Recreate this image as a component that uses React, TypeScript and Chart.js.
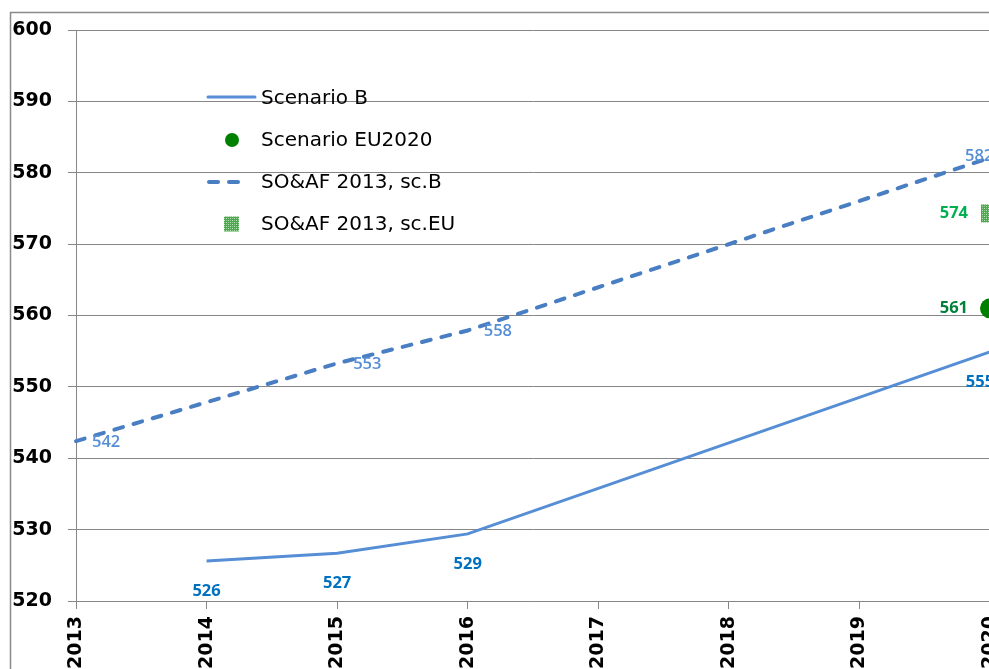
import React, { useEffect, useRef } from "react";
import { Chart, registerables } from "chart.js";

Chart.register(...registerables);

// ---- data ----
const years = ["2013", "2014", "2015", "2016", "2017", "2018", "2019", "2020"];
const scenarioB = [null, 525.6, 526.7, 529.4, null, null, null, 554.9];
const scenarioEU2020 = [null, null, null, null, null, null, null, 561.0];
const soafB = [542.4, null, 553.3, 557.9, null, null, null, 582.1];
const soafEU = [null, null, null, null, null, null, null, 574.3];
const seriesNames = ["Scenario B", "Scenario EU2020", "SO&AF 2013, sc.B", "SO&AF 2013, sc.EU"];
const yMin = 520;
const yMax = 600;
const yStep = 10;

// ---- styles ----
const FONT = "'DejaVu Sans', sans-serif";
const LABEL_FONT = "'Open Sans', sans-serif";
const GRID = "#868686";
const labelStyles = [
  { color: "#0070C0", place: "below", weight: "bold" },
  { color: "#00803A", place: "left", weight: "bold" },
  { color: "#558ED5", place: "right", weight: "600" },
  { color: "#00B050", place: "left", weight: "bold" },
];

function makePattern(): CanvasPattern | string {
  const c = document.createElement("canvas");
  c.width = 4;
  c.height = 4;
  const g = c.getContext("2d");
  if (!g) return "#5aad5a";
  g.fillStyle = "#4fa84f";
  g.fillRect(0, 0, 4, 4);
  g.fillStyle = "#bfe3bf";
  g.fillRect(0, 0, 1, 1);
  g.fillRect(2, 2, 1, 1);
  g.fillStyle = "#8ccc8c";
  g.fillRect(2, 0, 1, 1);
  g.fillRect(0, 2, 1, 1);
  const p = g.createPattern(c, "repeat");
  return p || "#5aad5a";
}

export default function App() {
  const ref = useRef<HTMLCanvasElement>(null);

  useEffect(() => {
    if (!ref.current) return;
    const pattern = makePattern();

    const frame = {
      id: "frame",
      beforeDraw(chart: any) {
        const ctx = chart.ctx;
        ctx.save();
        ctx.strokeStyle = "#8a8a8a";
        ctx.lineWidth = 1.5;
        ctx.strokeRect(10.5, 12.5, 3000, 3000);
        ctx.restore();
      },
    };

    const dataLabels = {
      id: "dataLabels",
      afterDatasetsDraw(chart: any) {
        const ctx = chart.ctx;
        const area = chart.chartArea;
        ctx.save();
        ctx.textBaseline = "middle";
        chart.data.datasets.forEach((ds: any, di: number) => {
          const meta = chart.getDatasetMeta(di);
          const st = labelStyles[di];
          ctx.font = `${st.weight} 16.5px ${LABEL_FONT}`;
          ds.data.forEach((v: number | null, i: number) => {
            if (v == null) return;
            const el = meta.data[i];
            const txt = String(Math.round(v));
            const w = ctx.measureText(txt).width;
            ctx.fillStyle = st.color;
            if (st.place === "below") {
              const cx = Math.min(el.x, area.right - 10);
              ctx.textAlign = "center";
              ctx.fillText(txt, cx, el.y + 30);
            } else if (st.place === "right") {
              let lx = el.x + 16;
              let ly = el.y + 1;
              if (lx + w > area.right) {
                lx = area.right - 25;
                ly = el.y - 1;
              }
              ctx.textAlign = "left";
              ctx.fillText(txt, lx, ly);
            } else {
              ctx.textAlign = "right";
              ctx.fillText(txt, el.x - 22, el.y);
            }
          });
        });
        ctx.restore();
      },
    };

    const legend = {
      id: "customLegend",
      afterDraw(chart: any) {
        const ctx = chart.ctx;
        const x0 = 207;
        const rows = [98, 140, 182, 224];
        ctx.save();
        ctx.strokeStyle = "#558ED5";
        ctx.lineWidth = 3;
        ctx.lineCap = "round";
        ctx.beginPath();
        ctx.moveTo(x0 + 1, rows[0] - 1);
        ctx.lineTo(x0 + 48, rows[0] - 1);
        ctx.stroke();
        ctx.fillStyle = "#008000";
        ctx.beginPath();
        ctx.arc(x0 + 25, rows[1], 7, 0, Math.PI * 2);
        ctx.fill();
        ctx.strokeStyle = "#4A7EC3";
        ctx.lineWidth = 4;
        ctx.setLineDash([9, 11]);
        ctx.beginPath();
        ctx.moveTo(x0 + 2, rows[2]);
        ctx.lineTo(x0 + 42, rows[2]);
        ctx.stroke();
        ctx.setLineDash([]);
        ctx.fillStyle = pattern as any;
        ctx.fillRect(x0 + 17, rows[3] - 7.5, 15, 15);
        ctx.fillStyle = "#000";
        ctx.font = `20px ${FONT}`;
        ctx.textAlign = "left";
        ctx.textBaseline = "middle";
        seriesNames.forEach((n, i) => ctx.fillText(n, x0 + 54, rows[i] + 1));
        ctx.restore();
      },
    };

    const chart = new Chart(ref.current, {
      type: "line",
      data: {
        labels: years,
        datasets: [
          {
            label: seriesNames[0],
            data: scenarioB,
            borderColor: "#558ED5",
            borderWidth: 3,
            pointRadius: 0,
            spanGaps: true,
            tension: 0,
          },
          {
            label: seriesNames[1],
            data: scenarioEU2020,
            showLine: false,
            pointRadius: 10,
            pointBackgroundColor: "#008000",
            pointBorderWidth: 0,
          },
          {
            label: seriesNames[2],
            data: soafB,
            borderColor: "#4A7EC3",
            borderWidth: 4,
            borderDash: [9, 11],
            borderCapStyle: "round",
            pointRadius: 0,
            spanGaps: true,
            tension: 0,
          },
          {
            label: seriesNames[3],
            data: soafEU,
            showLine: false,
            pointStyle: "rect",
            pointRadius: 12.7,
            pointBackgroundColor: pattern as any,
            pointBorderWidth: 0,
          },
        ] as any,
      },
      options: {
        responsive: false,
        animation: false,
        clip: false as any,
        layout: { padding: { left: 0, top: 30, right: 90, bottom: 0 } },
        plugins: { legend: { display: false }, tooltip: { enabled: false } },
        scales: {
          x: {
            type: "category",
            offset: false,
            grid: { drawOnChartArea: false, color: GRID, tickLength: 8 },
            border: { display: true, color: GRID },
            ticks: {
              autoSkip: false,
              minRotation: 90,
              maxRotation: 90,
              padding: 7,
              color: "#000",
              font: { family: FONT, size: 19, weight: "bold" },
            },
            afterFit: (s: any) => {
              s.height = 119;
            },
          },
          y: {
            min: yMin,
            max: yMax,
            grid: { color: GRID, tickLength: 8 },
            border: { display: true, color: GRID },
            ticks: {
              stepSize: yStep,
              padding: 16,
              color: "#000",
              font: { family: FONT, size: 19, weight: "bold" },
            },
            afterFit: (s: any) => {
              s.width = 76;
            },
          },
        },
      } as any,
      plugins: [frame, dataLabels, legend],
    });
    return () => chart.destroy();
  }, []);

  return (
    <div style={{ position: "fixed", left: 0, top: 0, width: 989, height: 669, overflow: "hidden", background: "#fff" }}>
      <canvas ref={ref} width={1080} height={720} style={{ display: "block" }} />
    </div>
  );
}
